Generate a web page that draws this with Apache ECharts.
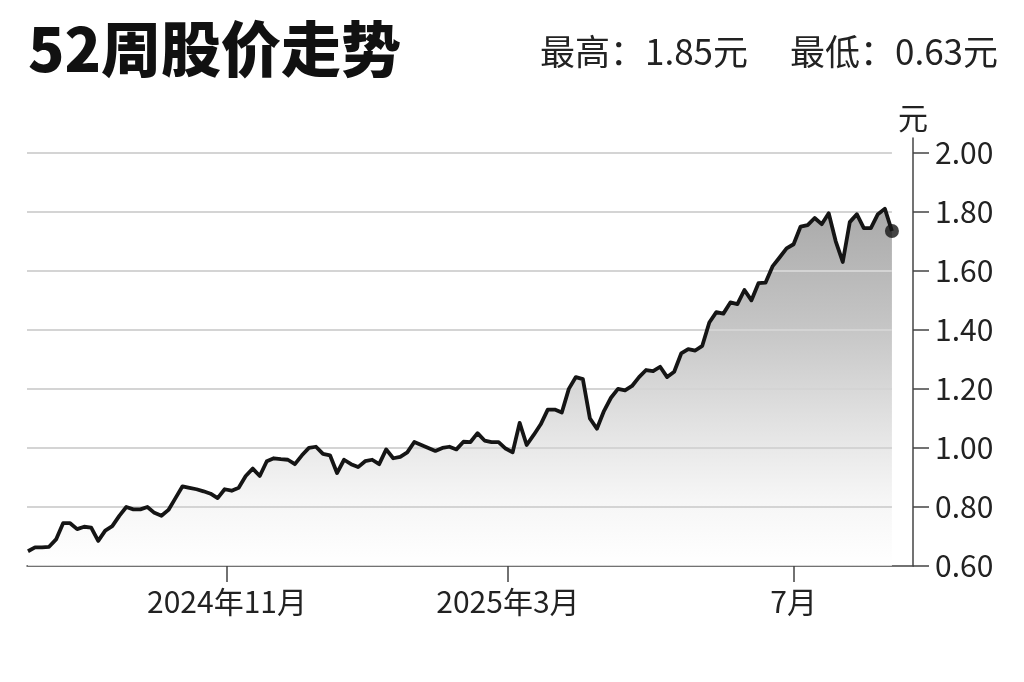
<!DOCTYPE html>
<html>
<head>
<meta charset="utf-8">
<title>52周股价走势</title>
<script src="https://cdn.jsdelivr.net/npm/echarts@6/dist/echarts.min.js"></script>
<style>
    html, body { margin: 0; padding: 0; background: #fff; }
    #mapDiv { width: 1024px; height: 682px; }
</style>
</head>
<body>
<div id="mapDiv"></div>
<script>
// 收盘价，从 2024-08-08 起每 3 天一个点
var startDate = [2024, 7, 8];
var stepDays = 3;
var prices = [
    0.65, 0.663, 0.663, 0.665, 0.69, 0.745, 0.745, 0.725, 0.733, 0.73,
    0.685, 0.72, 0.735, 0.77, 0.80, 0.792, 0.792, 0.80, 0.78, 0.77,
    0.79, 0.83, 0.87, 0.865, 0.86, 0.853, 0.845, 0.83, 0.86, 0.855,
    0.865, 0.905, 0.93, 0.905, 0.955, 0.965, 0.962, 0.96, 0.945, 0.975,
    1.0, 1.004, 0.98, 0.975, 0.915, 0.96, 0.945, 0.935, 0.955, 0.96,
    0.945, 0.995, 0.965, 0.97, 0.985, 1.02, 1.01, 1.0, 0.99, 1.0,
    1.004, 0.995, 1.021, 1.02, 1.05, 1.025, 1.02, 1.02, 0.998, 0.985,
    1.085, 1.01, 1.044, 1.08, 1.13, 1.13, 1.12, 1.20, 1.24, 1.233,
    1.10, 1.065, 1.125, 1.17, 1.20, 1.195, 1.21, 1.24, 1.264, 1.26,
    1.275, 1.24, 1.258, 1.32, 1.335, 1.33, 1.346, 1.425, 1.46, 1.455,
    1.493, 1.487, 1.535, 1.50, 1.558, 1.56, 1.615, 1.645, 1.676, 1.69,
    1.75, 1.755, 1.779, 1.758, 1.795, 1.70, 1.63, 1.765, 1.792, 1.745,
    1.745, 1.792, 1.81, 1.735
];

var tickDates = ['2024-11-01', '2025-03-01', '2025-07-01'];
var tickLabels = ['2024年11月', '2025年3月', '7月'];
var yTicks = [0.6, 0.8, 1.0, 1.2, 1.4, 1.6, 1.8, 2.0];
var gridValues = [0.8, 1.0, 1.2, 1.4, 1.6, 1.8, 2.0];
var highText = '最高：1.85元';
var lowText = '最低：0.63元';

var xMin = +new Date(2024, 7, 7, 14);
var xMax = +new Date(2025, 7, 21);

var seriesData = [];
for (var i = 0; i < prices.length; i++) {
    var t = +new Date(startDate[0], startDate[1], startDate[2] + stepDays * i);
    seriesData.push([t, prices[i]]);
}
var lastPoint = seriesData[seriesData.length - 1];

var tickTimes = tickDates.map(function (d) {
    var p = d.split('-');
    return +new Date(+p[0], +p[1] - 1, +p[2]);
});

// 网格线只画到最后一个交易日
var gridLines = gridValues.map(function (v) {
    return [{ coord: [xMin, v] }, { coord: [lastPoint[0], v] }];
});

var font = 'Noto Sans CJK SC';
var dom = document.getElementById('mapDiv');
var myChart = echarts.init(dom);

var option = {
    backgroundColor: '#fff',
    animation: false,
    title: [
        {
            text: '52周股价走势',
            left: 23,
            top: 14,
            textStyle: { fontFamily: font, fontSize: 60, fontWeight: 900, color: '#111' }
        },
        {
            text: highText,
            right: 271,
            top: 29,
            textStyle: { fontFamily: font, fontSize: 35, fontWeight: 'normal', color: '#222' }
        },
        {
            text: lowText,
            right: 21,
            top: 29,
            textStyle: { fontFamily: font, fontSize: 35, fontWeight: 'normal', color: '#222' }
        }
    ],
    grid: {
        left: 27,
        right: 111,
        top: 138,
        bottom: 116
    },
    xAxis: {
        type: 'value',
        min: xMin,
        max: xMax,
        axisLine: { lineStyle: { color: '#444', width: 1.5 } },
        axisTick: {
            show: true,
            length: 16,
            customValues: tickTimes,
            lineStyle: { color: '#444', width: 1.5 }
        },
        axisLabel: {
            customValues: tickTimes,
            margin: 21,
            fontFamily: font,
            fontSize: 30,
            color: '#222',
            formatter: function (value) {
                var k = tickTimes.indexOf(value);
                return k >= 0 ? tickLabels[k] : '';
            }
        },
        splitLine: { show: false }
    },
    yAxis: {
        type: 'value',
        position: 'right',
        min: 0.6,
        max: 2.05,
        name: '元',
        nameLocation: 'end',
        nameGap: 5,
        nameTextStyle: { fontFamily: font, fontSize: 30, color: '#222', align: 'center' },
        axisLine: { show: true, lineStyle: { color: '#444', width: 1.5 } },
        axisTick: {
            show: true,
            length: 16,
            customValues: yTicks,
            lineStyle: { color: '#444', width: 1.5 }
        },
        axisLabel: {
            customValues: yTicks,
            margin: 22,
            fontFamily: font,
            fontSize: 30,
            color: '#222',
            formatter: function (v) { return v.toFixed(2); }
        },
        splitLine: { show: false }
    },
    series: [
        {
            name: 'area',
            type: 'line',
            z: 1,
            data: seriesData,
            symbol: 'none',
            lineStyle: { width: 0, opacity: 0 },
            areaStyle: {
                origin: 'start',
                color: new echarts.graphic.LinearGradient(0, 0, 0, 1, [
                    { offset: 0, color: '#858585' },
                    { offset: 0.34, color: '#aeaeae' },
                    { offset: 0.51, color: '#c8c8c8' },
                    { offset: 0.675, color: '#e0e0e0' },
                    { offset: 0.815, color: '#f2f2f2' },
                    { offset: 1, color: '#ffffff' }
                ])
            },
            markLine: {
                silent: true,
                symbol: ['none', 'none'],
                label: { show: false },
                lineStyle: { color: '#d4d4d4', width: 2, type: 'solid' },
                data: gridLines
            }
        },
        {
            name: 'price',
            type: 'line',
            z: 10,
            data: seriesData,
            symbol: 'none',
            lineStyle: { color: '#151515', width: 3.8, join: 'round' }
        },
        {
            name: 'last',
            type: 'scatter',
            z: 11,
            data: [lastPoint],
            symbolSize: 14,
            itemStyle: { color: '#151515' }
        }
    ]
};

myChart.setOption(option);
</script>
</body>
</html>
